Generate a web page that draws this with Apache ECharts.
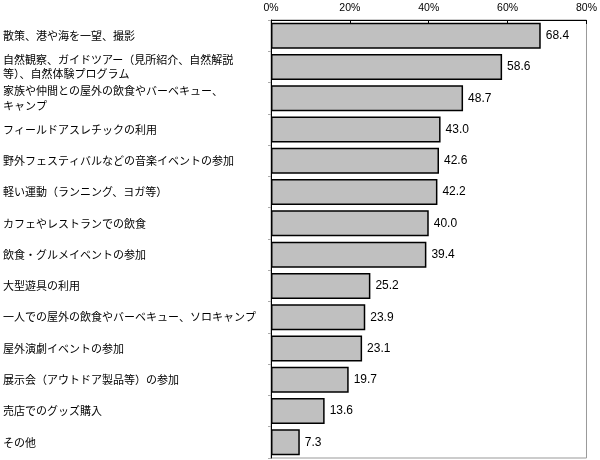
<!DOCTYPE html>
<html><head><meta charset="utf-8">
<script src="https://cdn.jsdelivr.net/npm/echarts@6/dist/echarts.min.js"></script>
<style>html,body{margin:0;padding:0;background:#fff}#c{width:600px;height:460px}</style>
</head><body><div id="c"></div>
<script>
const categories = [
  "散策、港や海を一望、撮影",
  "自然観察、ガイドツアー（見所紹介、自然解説\n等）、自然体験プログラム",
  "家族や仲間との屋外の飲食やバーベキュー、\nキャンプ",
  "フィールドアスレチックの利用",
  "野外フェスティバルなどの音楽イベントの参加",
  "軽い運動（ランニング、ヨガ等）",
  "カフェやレストランでの飲食",
  "飲食・グルメイベントの参加",
  "大型遊具の利用",
  "一人での屋外の飲食やバーベキュー、ソロキャンプ",
  "屋外演劇イベントの参加",
  "展示会（アウトドア製品等）の参加",
  "売店でのグッズ購入",
  "その他"
];
const values = [68.4, 58.6, 48.7, 43.0, 42.6, 42.2, 40.0, 39.4, 25.2, 23.9, 23.1, 19.7, 13.6, 7.3];
const xTicks = [0, 20, 40, 60, 80];

const chart = echarts.init(document.getElementById('c'), null, {renderer: 'canvas'});
chart.setOption({
  animation: false,
  grid: {left: 271, right: 12, top: 20, bottom: 2, show: true, borderColor: '#999', borderWidth: 1},
  xAxis: {
    type: 'value', position: 'top', min: 0, max: 80, interval: 20,
    axisLine: {show: true, lineStyle: {color: '#000', width: 1}},
    axisTick: {show: true, inside: true, length: 4, lineStyle: {color: '#000'}},
    splitLine: {show: false},
    axisLabel: {formatter: v => xTicks.includes(v) ? v + '%' : '', color: '#000', fontSize: 10.5, fontFamily: 'Liberation Sans, Arial', margin: 6}
  },
  yAxis: {
    type: 'category', inverse: true, data: categories,
    axisLine: {show: true, lineStyle: {color: '#000', width: 1}},
    axisTick: {show: true, length: 3, lineStyle: {color: '#aaa'}},
    axisLabel: {align: 'left', margin: 268, color: '#000', fontSize: 11, lineHeight: 14.5,
      padding: [0, 0, 3, 0], fontFamily: 'Noto Sans CJK JP, sans-serif'}
  },
  series: [{
    type: 'bar', data: values, barCategoryGap: '17%',
    itemStyle: {color: '#c0c0c0', borderColor: '#000', borderWidth: 1.5},
    label: {show: true, position: 'right', distance: 5, color: '#000', fontSize: 12,
      fontFamily: 'Liberation Sans, Arial', formatter: p => p.value.toFixed(1)}
  }]
});
</script></body></html>
